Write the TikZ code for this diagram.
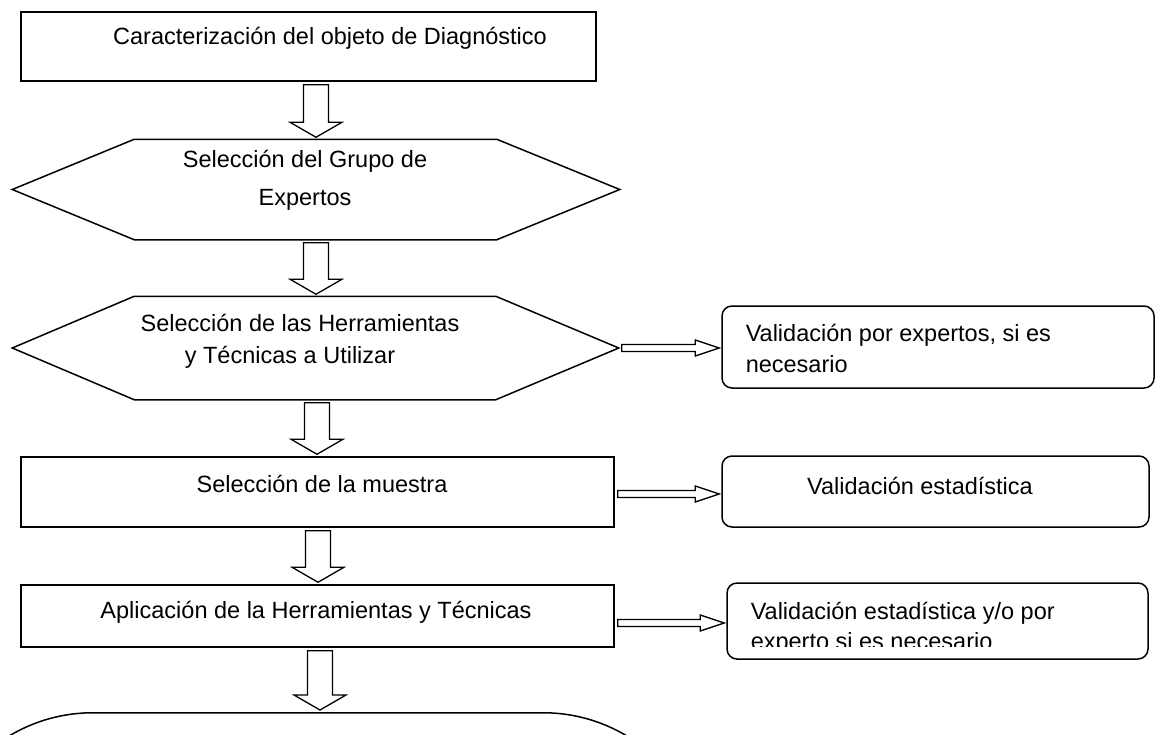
\documentclass[tikz,border=0pt]{standalone}
\usepackage{fontspec}
\setmainfont{Liberation Sans}
\usetikzlibrary{calc}
\newcommand\varrow[3]{%
  \draw[blk] let \p1=(#1.south), \p2=(#2.north) in
    (#3pt-12.5pt,\y1-3pt) -- (#3pt-12.5pt,\y2+17pt) -- (#3pt-26pt,\y2+17pt) --
    (#3pt,\y2+2pt) -- (#3pt+26pt,\y2+17pt) -- (#3pt+12.5pt,\y2+17pt) --
    (#3pt+12.5pt,\y1-3pt) -- cycle;}
\newcommand\harrow[3]{%
  \draw[blk] let \p1=(#1.east), \p2=(#2.west) in
    (\x1+3pt,#3pt+3.5pt) -- (\x2-26pt,#3pt+3.5pt) -- (\x2-26pt,#3pt+8pt) --
    (\x2-2pt,#3pt) -- (\x2-26pt,#3pt-8pt) -- (\x2-26pt,#3pt-3.5pt) --
    (\x1+3pt,#3pt-3.5pt) -- cycle;}
\begin{document}
\begin{tikzpicture}[x=1pt,y=1pt,line width=1.5pt,
  box/.style={draw,rectangle,inner sep=0pt},
  rbox/.style={draw,rectangle,rounded corners=10pt,inner sep=0pt},
  hexbox/.style={rectangle,inner sep=0pt},
  blk/.style={draw,line width=1.3pt,fill=white},
  txt/.style={inner sep=0pt,font=\fontsize{23.5pt}{31pt}\selectfont,text height=17pt,text depth=5pt}]
\useasboundingbox (0,0) rectangle (1155,-734);
\clip (0,0) rectangle (1155,-734);
% main column
\node[box,minimum width=575pt,minimum height=69pt] (top) at (308.5,-46.5) {};
\node[hexbox,minimum width=606pt,minimum height=99pt] (h1) at (316,-189.5) {};
\draw (h1.west) -- ($(h1.north west)+(122,0)$) -- ($(h1.north east)+(-123,0)$) -- (h1.east)
  -- ($(h1.south east)+(-123,0)$) -- ($(h1.south west)+(122,0)$) -- cycle;
\node[hexbox,minimum width=605pt,minimum height=102pt] (h2) at (315.5,-348) {};
\draw (h2.west) -- ($(h2.north west)+(122,0)$) -- ($(h2.north east)+(-123,0)$) -- (h2.east)
  -- ($(h2.south east)+(-123,0)$) -- ($(h2.south west)+(122,0)$) -- cycle;
\node[box,minimum width=593pt,minimum height=70pt] (b3) at (317.5,-492) {};
\node[box,minimum width=593pt,minimum height=62pt] (b4) at (317.5,-616) {};
\node[draw,rectangle,rounded corners=163pt,inner sep=0pt,minimum width=776pt,minimum height=300pt,anchor=north] (res) at (318,-712) {};
% right column
\node[rbox,minimum width=432pt,minimum height=82pt] (r1) at (938,-347) {};
\node[rbox,minimum width=427pt,minimum height=71pt] (r2) at (935.5,-491.5) {};
\node[rbox,minimum width=421pt,minimum height=76pt] (r3) at (937.5,-621) {};
% texts
\node[txt] (t0) at (330,-38) {Caracterización del objeto de Diagnóstico};
\node[txt] (t1a) at (305,-161) {Selección del Grupo de};
\node[txt] (t1b) at (305,-199) {Expertos};
\node[txt] (t2a) at (300,-325) {Selección de las Herramientas};
\node[txt] (t2b) at (290,-357) {y Técnicas a Utilizar};
\node[txt] (t3) at (322,-486) {Selección de la muestra};
\node[txt] (t4) at (316,-612) {Aplicación de la Herramientas y Técnicas};
\node[txt,anchor=west] (r1a) at (745,-335) {Validación por expertos, si es};
\node[txt,anchor=west] (r1b) at (745,-366) {necesario};
\node[txt] (r2t) at (920,-488) {Validación estadística};
\node[txt,anchor=west] (r3a) at (750,-613) {Validación estadística y/o por};
\begin{scope}
  \clip (727,-583) rectangle (1148,-646);
  \node[txt,anchor=west] (r3b) at (750,-643) {experto si es necesario};
\end{scope}
% connectors
\varrow{top}{h1}{316}
\varrow{h1}{h2}{316}
\varrow{h2}{b3}{317}
\varrow{b3}{b4}{318}
\varrow{b4}{res}{320}
\harrow{h2}{r1}{-348}
\harrow{b3}{r2}{-494}
\harrow{b4}{r3}{-623}
\end{tikzpicture}
\end{document}
